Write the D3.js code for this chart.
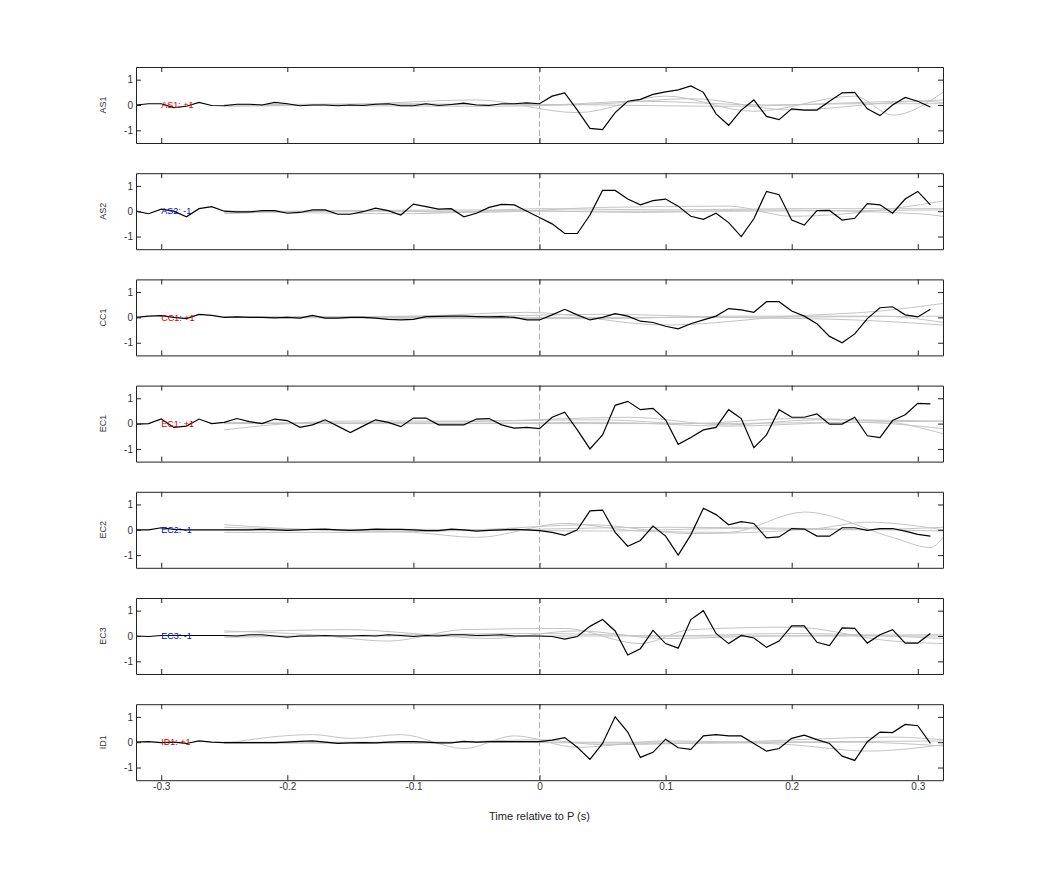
<!DOCTYPE html>
<html>
<head>
<meta charset="utf-8">
<script src="https://cdn.jsdelivr.net/npm/d3@7"></script>
<style>
  body { margin: 0; background: #fff; }
  text { font-family: "Liberation Sans", Arial, sans-serif; }
</style>
</head>
<body>
<svg id="chart" width="1042" height="875"></svg>
<script>
// channel names and polarity shown in each panel
const channels = ['AS1', 'AS2', 'CC1', 'EC1', 'EC2', 'EC3', 'ID1'];
const polarity = ['+1', '-1', '+1', '+1', '-1', '-1', '+1'];
const xTicks = [-0.3, -0.2, -0.1, 0, 0.1, 0.2, 0.3];
const yTicks = [-1, 0, 1];

// black traces, one sample per 10 ms from -0.32 s to 0.31 s
const AS1 = [0, 0.05, 0.05, -0.1, -0.05, 0.1, -0.02, -0.03, 0.03, 0.03, 0, 0.1, 0.05, -0.03, 0, 0, -0.03, 0, -0.02, 0.03, 0.05, -0.03, -0.03, 0.05, -0.02, 0.02, 0.07, 0, -0.02, 0.05, 0.05, 0.08, 0.05,
  0.35, 0.48, -0.2, -0.92, -0.97, -0.3, 0.15, 0.22, 0.42, 0.52, 0.6, 0.75, 0.5, -0.35, -0.8, -0.2, 0.2, -0.45, -0.58, -0.15, -0.2, -0.2, 0.15, 0.48, 0.5, -0.15, -0.42, 0, 0.3, 0.15, -0.08];
const AS2 = [0, -0.1, 0.08, 0, -0.22, 0.1, 0.18, 0, -0.03, -0.03, 0.02, 0.02, -0.08, -0.05, 0.05, 0.05, -0.12, -0.12, -0.02, 0.12, 0.02, -0.15, 0.28, 0.18, 0.08, 0.1, -0.22, -0.08, 0.15, 0.27, 0.25, 0, -0.25,
  -0.5, -0.88, -0.88, -0.15, 0.82, 0.82, 0.48, 0.25, 0.42, 0.48, 0.2, -0.2, -0.32, -0.08, -0.45, -1.0, -0.3, 0.78, 0.65, -0.35, -0.55, 0.02, 0.03, -0.35, -0.28, 0.3, 0.25, -0.08, 0.48, 0.78, 0.25];
const CC1 = [0, 0.05, 0.07, 0, -0.05, 0.12, 0.08, 0, 0.02, 0, 0, -0.02, 0, -0.03, 0.08, -0.03, -0.03, 0, 0, -0.03, -0.08, -0.1, -0.08, 0.03, 0.04, 0.05, 0.05, 0.03, 0.02, 0.03, 0, -0.1, -0.1,
  0.1, 0.32, 0.1, -0.1, 0, 0.15, 0.05, -0.15, -0.2, -0.35, -0.45, -0.25, -0.1, 0.05, 0.35, 0.3, 0.2, 0.62, 0.62, 0.25, 0.05, -0.25, -0.75, -1.0, -0.65, -0.05, 0.38, 0.42, 0.1, 0.02, 0.32];
const EC1 = [-0.02, 0, 0.18, -0.15, -0.1, 0.18, 0, 0.05, 0.2, 0.08, 0, 0.18, 0.12, -0.15, -0.05, 0.15, -0.1, -0.35, -0.1, 0.15, 0.05, -0.12, 0.22, 0.22, -0.05, -0.05, -0.05, 0.18, 0.2, -0.05, -0.18, -0.15, -0.2,
  0.25, 0.45, -0.25, -1.0, -0.45, 0.72, 0.88, 0.55, 0.6, 0.15, -0.82, -0.55, -0.25, -0.15, 0.55, 0.2, -0.95, -0.45, 0.55, 0.25, 0.25, 0.38, -0.02, -0.02, 0.25, -0.48, -0.55, 0.12, 0.35, 0.8, 0.78];
const EC2 = [0, 0, 0.08, 0.02, 0, 0, 0, 0, 0, 0, 0.02, 0, -0.02, 0, 0.02, 0.03, 0, -0.02, 0, 0.03, 0.02, 0.02, 0, -0.03, -0.03, 0.03, 0, -0.05, -0.02, 0, 0.02, 0, -0.03,
  -0.1, -0.22, 0, 0.75, 0.78, -0.1, -0.65, -0.42, 0.15, -0.25, -1.0, -0.2, 0.85, 0.6, 0.2, 0.32, 0.25, -0.32, -0.28, 0.05, 0.03, -0.25, -0.25, 0.08, 0.08, -0.02, 0.05, 0.05, -0.05, -0.18, -0.25];
const EC3 = [0, -0.02, 0.02, 0.02, 0.02, 0.02, 0.02, 0.02, 0, 0.05, 0.05, 0, -0.05, 0, 0, 0.02, 0, 0, 0.02, 0, 0.05, 0.02, -0.02, 0.02, 0, 0.05, 0.05, 0.02, 0.03, 0.05, 0, 0, 0,
  -0.02, -0.12, -0.02, 0.38, 0.65, 0.2, -0.75, -0.5, 0.22, -0.3, -0.48, 0.65, 1.0, 0.1, -0.3, 0.02, -0.08, -0.45, -0.2, 0.4, 0.4, -0.25, -0.38, 0.32, 0.3, -0.28, 0.05, 0.25, -0.28, -0.28, 0.1];
const ID1 = [0, 0.02, -0.02, 0, -0.05, 0.05, 0, -0.02, -0.02, -0.02, -0.02, -0.02, 0, 0.03, 0.05, 0, -0.05, -0.03, -0.02, -0.03, 0, 0.02, 0.02, 0, -0.03, -0.03, 0.03, 0, 0.02, 0.02, 0.02, 0.02, 0.02,
  0.08, 0.18, -0.2, -0.68, -0.05, 1.0, 0.4, -0.6, -0.4, 0.12, -0.22, -0.28, 0.25, 0.3, 0.25, 0.25, -0.05, -0.35, -0.25, 0.15, 0.28, 0.1, -0.05, -0.55, -0.72, 0.02, 0.4, 0.38, 0.7, 0.65, -0.05];
const traces = [AS1, AS2, CC1, EC1, EC2, EC3, ID1];

// grey reference curves, [time, value] knots
const greyAS1 = [
  [[-0.25, -0.05], [-0.15, 0.02], [-0.05, 0.2], [0.03, -0.3], [0.1, 0.35], [0.17, -0.25], [0.25, 0.35], [0.28, -0.4], [0.32, 0.5]],
  [[-0.25, 0], [-0.1, 0.05], [0, 0], [0.08, 0.15], [0.18, 0], [0.3, 0.15], [0.32, 0.1]],
  [[-0.25, 0.02], [-0.05, -0.05], [0.05, 0.05], [0.12, 0.25], [0.2, -0.2], [0.28, 0.1], [0.32, 0.2]],
  [[-0.25, 0], [0, 0.02], [0.15, -0.05], [0.25, 0.05], [0.32, 0.05]]];
const greyAS2 = [
  [[-0.25, -0.1], [-0.15, 0.02], [-0.05, -0.05], [0.05, 0.15], [0.15, 0.2], [0.2, -0.2], [0.28, 0.1], [0.32, 0.4]],
  [[-0.25, 0], [-0.1, -0.1], [0, 0.1], [0.1, 0.05], [0.2, 0.1], [0.32, 0.1]],
  [[-0.25, -0.05], [-0.05, 0.05], [0.08, -0.05], [0.18, 0.05], [0.3, -0.1], [0.32, -0.2]],
  [[-0.25, 0], [0, 0], [0.15, 0], [0.32, 0.05]]];
const greyCC1 = [
  [[-0.25, 0], [-0.1, 0.05], [-0.01, 0.2], [0.1, -0.3], [0.2, 0.05], [0.27, 0.25], [0.32, 0.55]],
  [[-0.25, 0.02], [-0.05, 0.05], [0.05, 0.12], [0.15, 0], [0.25, -0.1], [0.32, -0.3]],
  [[-0.25, 0], [0.05, -0.05], [0.15, 0.05], [0.27, 0.05], [0.32, -0.2]],
  [[-0.25, 0], [0.1, 0], [0.32, 0.05]]];
const greyEC1 = [
  [[-0.25, -0.25], [-0.2, 0], [-0.15, 0.1], [-0.05, 0.1], [0.07, 0.25], [0.15, -0.05], [0.22, 0.15], [0.32, 0.1]],
  [[-0.25, 0], [-0.1, 0.05], [0.05, 0.15], [0.12, 0], [0.2, 0.2], [0.27, 0.1], [0.32, -0.4]],
  [[-0.25, 0.05], [-0.1, 0], [0.05, 0.05], [0.15, -0.1], [0.25, 0.05], [0.32, -0.2]],
  [[-0.25, 0], [0.1, 0], [0.32, 0.1]]];
const greyEC2 = [
  [[-0.25, 0.2], [-0.18, 0], [-0.1, -0.1], [-0.05, -0.3], [0.02, 0.25], [0.08, -0.05], [0.15, -0.1], [0.21, 0.7], [0.28, -0.3], [0.31, -0.7], [0.32, -0.3]],
  [[-0.25, -0.1], [-0.15, -0.1], [-0.05, 0], [0.04, 0.2], [0.12, -0.15], [0.22, 0.05], [0.26, 0.3], [0.32, 0]],
  [[-0.25, 0], [-0.1, 0.02], [0.05, -0.05], [0.15, 0.05], [0.25, 0], [0.32, 0.1]],
  [[-0.25, 0.1], [-0.1, -0.05], [0.1, 0.1], [0.32, -0.05]]];
const greyEC3 = [
  [[-0.25, 0.2], [-0.18, 0.05], [-0.12, -0.2], [-0.06, 0.25], [0.02, 0.3], [0.08, -0.3], [0.12, 0.25], [0.2, 0.35], [0.28, -0.2], [0.32, -0.3]],
  [[-0.25, 0.15], [-0.15, 0.25], [-0.1, 0.1], [-0.04, -0.1], [0.03, 0.2], [0.1, -0.1], [0.18, 0], [0.32, 0.05]],
  [[-0.25, -0.05], [-0.1, 0.05], [0, 0.1], [0.1, 0], [0.2, 0.1], [0.32, -0.1]],
  [[-0.25, 0], [0.1, 0], [0.32, 0]]];
const greyID1 = [
  [[-0.25, -0.05], [-0.18, 0.3], [-0.15, 0.15], [-0.11, 0.3], [-0.06, -0.25], [-0.02, 0.25], [0.03, -0.2], [0.1, 0.05], [0.2, -0.1], [0.26, -0.35], [0.32, -0.1]],
  [[-0.25, 0], [-0.1, -0.05], [0, 0.1], [0.05, -0.1], [0.15, 0], [0.28, 0.2], [0.32, 0.1]],
  [[-0.25, -0.05], [-0.05, 0], [0.1, -0.05], [0.25, 0], [0.32, -0.15]],
  [[-0.25, 0], [0.1, 0], [0.32, 0.05]]];
const greys = [greyAS1, greyAS2, greyCC1, greyEC1, greyEC2, greyEC3, greyID1];

const svg = d3.select('#chart');
const left = 136, right = 943, panelH = 76, firstTop = 67, step = 106.2;

const x = d3.scaleLinear().domain([-0.32, 0.32]).range([left, right]);
const times = d3.range(AS1.length).map((i) => -0.32 + i * 0.01);
// plain hyphen for negatives, like the original figure
const fmt = (d) => String(d);

channels.forEach((name, k) => {
  const top = firstTop + k * step;
  const y = d3.scaleLinear().domain([-1.5, 1.5]).range([top + panelH, top]);
  const g = svg.append('g');

  // zero line marker
  g.append('line').attr('x1', x(0)).attr('x2', x(0))
    .attr('y1', top).attr('y2', top + panelH)
    .attr('stroke', '#999').attr('stroke-width', 0.8).attr('stroke-dasharray', '6,3');

  const clip = 'clip' + k;
  g.append('clipPath').attr('id', clip).append('rect')
    .attr('x', left).attr('y', top).attr('width', right - left).attr('height', panelH);

  const greyLine = d3.line().x((d) => x(d[0])).y((d) => y(d[1])).curve(d3.curveMonotoneX);
  g.append('g').attr('clip-path', `url(#${clip})`).selectAll('path')
    .data(greys[k]).join('path')
    .attr('d', greyLine).attr('fill', 'none')
    .attr('stroke', '#c4c4c4').attr('stroke-width', 1);

  const line = d3.line().x((d, i) => x(times[i])).y((d) => y(d));
  g.append('path').datum(traces[k]).attr('d', line)
    .attr('fill', 'none').attr('stroke', '#000').attr('stroke-width', 1.2);

  // frame with inward ticks on all sides
  const xb = d3.axisBottom(x).tickValues(xTicks).tickSizeInner(-5).tickSizeOuter(0)
    .tickFormat(k === channels.length - 1 ? fmt : () => '');
  const xt = d3.axisTop(x).tickValues(xTicks).tickSizeInner(-5).tickSizeOuter(0).tickFormat(() => '');
  const yl = d3.axisLeft(y).tickValues(yTicks).tickSizeInner(-5).tickSizeOuter(0).tickFormat(fmt);
  const yr = d3.axisRight(y).tickValues(yTicks).tickSizeInner(-5).tickSizeOuter(0).tickFormat(() => '');
  [[xb, `translate(0,${top + panelH})`], [xt, `translate(0,${top})`],
   [yl, `translate(${left},0)`], [yr, `translate(${right},0)`]].forEach(([ax, tr]) => {
    const a = g.append('g').attr('transform', tr).call(ax);
    a.select('.domain').attr('stroke', '#222');
    a.selectAll('.tick line').attr('stroke', '#222');
    a.selectAll('.tick text').attr('fill', '#333').attr('font-size', 10)
      .attr('font-family', '"Liberation Sans", Arial, sans-serif');
  });

  g.append('text').attr('transform', `translate(106,${y(0)}) rotate(-90)`)
    .attr('text-anchor', 'middle').attr('font-size', 9).attr('fill', '#333').text(name);

  g.append('text').attr('x', x(-0.3)).attr('y', y(0)).attr('dy', '0.35em')
    .attr('font-size', 9).attr('fill', polarity[k] === '+1' ? '#d00000' : '#0000cc')
    .text(`${name}: ${polarity[k]}`);
});

svg.append('text').attr('x', x(0)).attr('y', 820).attr('text-anchor', 'middle')
  .attr('font-size', 11).attr('fill', '#222').text('Time relative to P (s)');
</script>
</body>
</html>
